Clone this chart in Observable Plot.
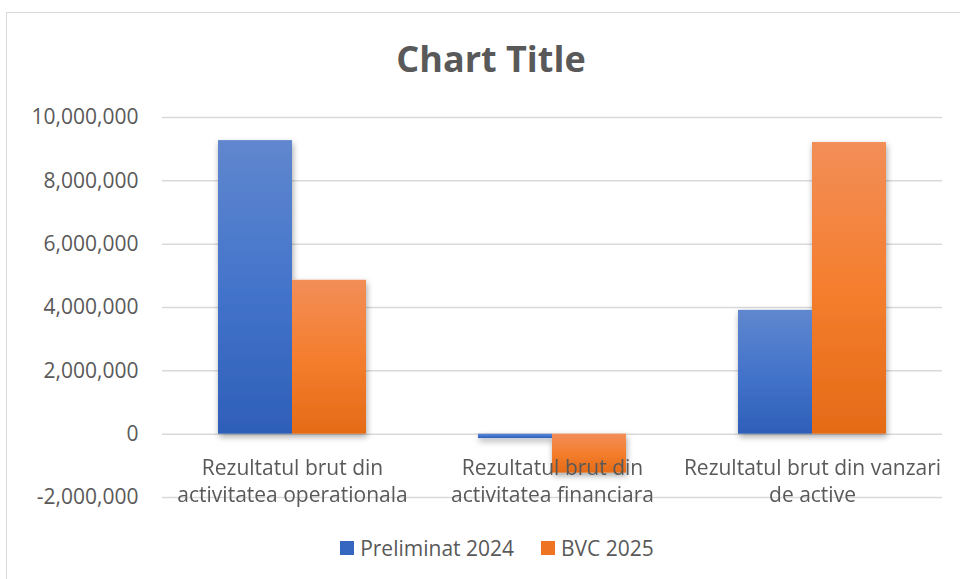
<!DOCTYPE html>
<html>
<head>
<meta charset="utf-8">
<script src="https://cdn.jsdelivr.net/npm/d3@7"></script>
<script src="https://cdn.jsdelivr.net/npm/@observablehq/plot@0.6"></script>
<style>
  html, body { margin: 0; padding: 0; background: #fff; }
  #wrap { position: relative; width: 960px; height: 579px; overflow: hidden; font-family: "Open Sans", sans-serif; color: #595959; }
  #frame { position: absolute; left: 6px; top: 12px; width: 1200px; height: 1200px; border: 1.5px solid #d9d9d9; box-sizing: border-box; }
  #title { position: absolute; left: 0; width: 982px; top: 41px; text-align: center; font-size: 36px; font-weight: 700; line-height: 1; }
  #chart { position: absolute; left: 0; top: 0; }
  #legend { position: absolute; top: 535px; left: 0; width: 994px; display: flex; justify-content: center; gap: 27px; font-size: 21px; line-height: 26px; }
  #legend span.item { display: flex; align-items: center; }
  #legend span.sw { display: inline-block; width: 14px; height: 14px; margin-right: 6px; }
</style>
</head>
<body>
<div id="wrap">
  <div id="frame"></div>
  <div id="chart"></div>
  <div id="title"></div>
  <div id="legend"></div>
</div>
<script>
// ---- data ----
const chartTitle = "Chart Title";
const categories = [
  "Rezultatul brut din activitatea operationala",
  "Rezultatul brut din activitatea financiara",
  "Rezultatul brut din vanzari de active"
];
const categoryLabels = [
  "Rezultatul brut din\nactivitatea operationala",
  "Rezultatul brut din\nactivitatea financiara",
  "Rezultatul brut din vanzari\nde active"
];
const seriesNames = ["Preliminat 2024", "BVC 2025"];
const preliminat2024 = [9270000, -140000, 3910000];
const bvc2025 = [4860000, -1230000, 9210000];
const yTicks = [-2000000, 0, 2000000, 4000000, 6000000, 8000000, 10000000];

// ---- build table ----
const rows = [];
categories.forEach((c, i) => {
  rows.push({category: c, series: seriesNames[0], value: preliminat2024[i]});
  rows.push({category: c, series: seriesNames[1], value: bvc2025[i]});
});
const labelRows = categories.map((c, i) => ({category: c, label: categoryLabels[i], zero: 0}));
const gradIds = {"Preliminat 2024": "url(#gBlue)", "BVC 2025": "url(#gOrange)"};
const fmt = d3.formatLocale({decimal: ".", thousands: ",", grouping: [3], currency: ["", ""], minus: "-"}).format(",");

const plot = Plot.plot({
  width: 960,
  height: 579,
  marginTop: 117,
  marginBottom: 82,
  marginLeft: 161,
  marginRight: 17,
  style: {background: "transparent", fontFamily: "Open Sans, sans-serif", fontSize: "21px", color: "#595959"},
  fx: {domain: categories, padding: 0, axis: null},
  x: {domain: seriesNames, paddingInner: 0, paddingOuter: 0.738, axis: null},
  y: {domain: [-2000000, 10000000], ticks: yTicks, tickSize: 0, tickPadding: 24, tickFormat: fmt, label: null},
  marks: [
    Plot.ruleY(yTicks, {stroke: "#d9d9d9", strokeWidth: 1.5}),
    Plot.barY(rows, {fx: "category", x: "series", y: "value", fill: d => gradIds[d.series]}),
    Plot.text(labelRows, {fx: "category", y: "zero", text: "label", dy: 46, lineAnchor: "middle", lineHeight: 1.24, fill: "#595959", fontSize: 21})
  ]
});

const svg = d3.select(plot);
svg.insert("defs", ":first-child").html(`
  <linearGradient id="gBlue" x1="0" y1="0" x2="0" y2="1">
    <stop offset="0" stop-color="#6087ce"/>
    <stop offset="0.5" stop-color="#4474cb"/>
    <stop offset="1" stop-color="#2e5fb8"/>
  </linearGradient>
  <linearGradient id="gOrange" x1="0" y1="0" x2="0" y2="1">
    <stop offset="0" stop-color="#f28e58"/>
    <stop offset="0.5" stop-color="#f47e2e"/>
    <stop offset="1" stop-color="#e56b17"/>
  </linearGradient>
  <filter id="shadow" x="-20%" y="-20%" width="140%" height="140%">
    <feDropShadow dx="1" dy="3" stdDeviation="3" flood-color="#000" flood-opacity="0.35"/>
  </filter>
`);
svg.selectAll("g[aria-label='bar']").attr("filter", "url(#shadow)");
svg.selectAll("g[aria-label='y-axis tick label'] text, g[aria-label='y-axis'] text").attr("fill", "#595959");

document.getElementById("chart").appendChild(plot);
document.getElementById("title").textContent = chartTitle;

const legendColors = ["#3567c0", "#ee7423"];
const legend = d3.select("#legend");
seriesNames.forEach((s, i) => {
  const it = legend.append("span").attr("class", "item");
  it.append("span").attr("class", "sw").style("background", legendColors[i]);
  it.append("span").text(s);
});
</script>
</body>
</html>
